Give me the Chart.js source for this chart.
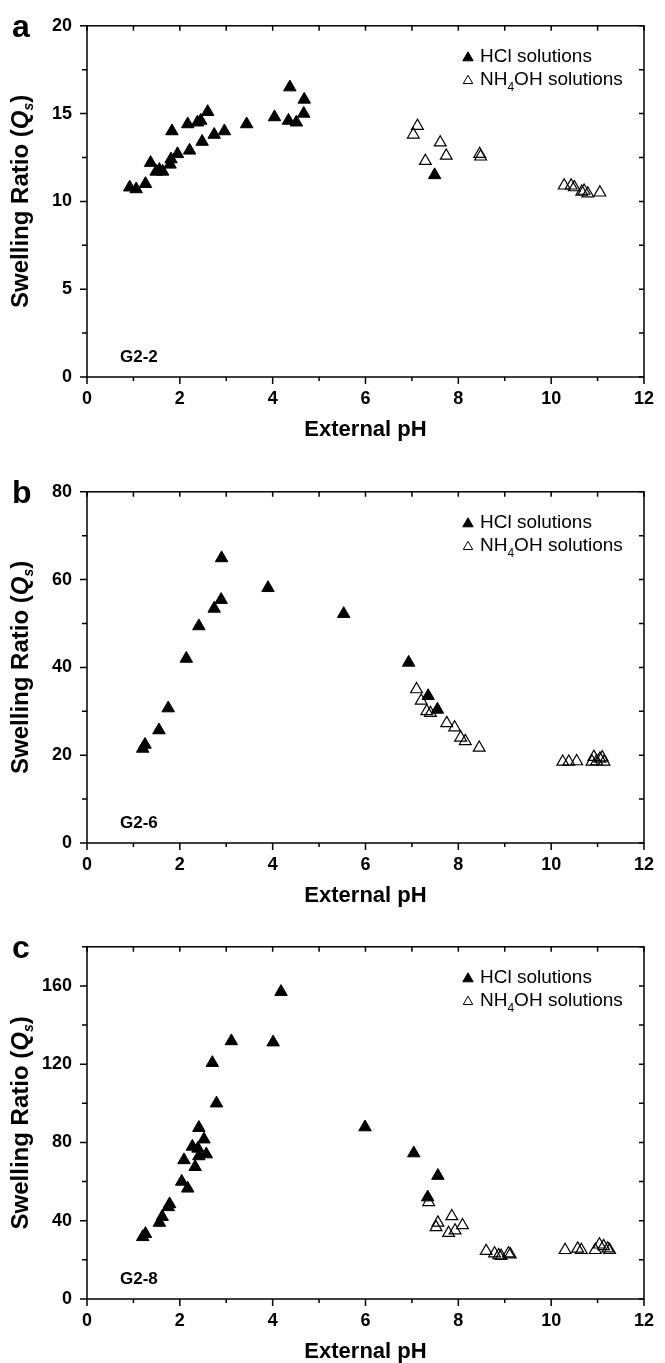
<!DOCTYPE html>
<html>
<head>
<meta charset="utf-8">
<script src="https://cdn.jsdelivr.net/npm/chart.js@4.4.1/dist/chart.umd.min.js"></script>
<style>
  html, body { margin: 0; padding: 0; background: #fff; }
  #page { position: relative; width: 665px; height: 1363px; overflow: hidden; }
  canvas { position: absolute; left: 0; }
</style>
</head>
<body>
<div id="page">
  <canvas id="chartA" width="665" height="466" style="top:0px"></canvas>
  <canvas id="chartB" width="665" height="455" style="top:466px"></canvas>
  <canvas id="chartC" width="665" height="442" style="top:921px"></canvas>
</div>
<script>
// shared x axis
const xTicks = [0, 2, 4, 6, 8, 10, 12];

// panel a  (G2-2)
const hclPhA = [0.92, 1.06, 1.26, 1.37, 1.49, 1.56, 1.63, 1.79, 1.81, 1.83, 1.95, 2.17, 2.21, 2.38, 2.45, 2.48, 2.60, 2.74, 2.96, 3.44, 4.04, 4.34, 4.37, 4.51, 4.67, 4.68, 7.49];
const hclQsA = [10.8, 10.7, 11.0, 12.2, 11.7, 11.8, 11.7, 12.1, 12.4, 14.0, 12.7, 14.4, 12.9, 14.5, 14.6, 13.4, 15.1, 13.8, 14.0, 14.4, 14.8, 14.6, 16.5, 14.5, 15.0, 15.8, 11.5];
const nhPhA = [7.03, 7.12, 7.29, 7.61, 7.74, 8.46, 8.48, 10.28, 10.43, 10.50, 10.66, 10.71, 10.79, 11.05];
const nhQsA = [13.8, 14.3, 12.3, 13.35, 12.6, 12.7, 12.55, 10.9, 10.9, 10.8, 10.55, 10.6, 10.45, 10.5];
const yTicksA = [0, 5, 10, 15, 20];

// panel b  (G2-6)
const hclPhB = [1.20, 1.25, 1.55, 1.75, 2.14, 2.41, 2.74, 2.89, 2.90, 3.90, 5.53, 6.93, 7.35, 7.55];
const hclQsB = [21.5, 22.4, 25.7, 30.7, 42.0, 49.4, 53.4, 55.4, 64.9, 58.1, 52.2, 41.1, 33.5, 30.4];
const nhPhB = [7.10, 7.20, 7.32, 7.40, 7.75, 7.92, 8.05, 8.15, 8.45, 10.25, 10.38, 10.55, 10.88, 10.92, 10.98, 11.05, 11.10, 11.14];
const nhQsB = [35.0, 32.4, 30.0, 29.6, 27.3, 26.3, 24.0, 23.2, 21.7, 18.5, 18.5, 18.6, 18.5, 19.6, 18.6, 19.2, 19.5, 18.5];
const yTicksB = [0, 20, 40, 60, 80];

// panel c  (G2-8)
const hclPhC = [1.20, 1.26, 1.56, 1.62, 1.75, 1.78, 2.04, 2.09, 2.17, 2.27, 2.33, 2.39, 2.41, 2.41, 2.52, 2.57, 2.70, 2.79, 3.11, 4.01, 4.18, 5.99, 7.04, 7.34, 7.56];
const hclQsC = [31.7, 33.3, 39.0, 42.0, 47.0, 48.5, 60.0, 71.0, 56.5, 77.9, 67.5, 76.9, 73.0, 87.5, 81.6, 74.0, 120.7, 100.0, 131.8, 131.2, 157.0, 87.8, 74.5, 52.0, 63.0];
const nhPhC = [7.36, 7.52, 7.56, 7.79, 7.86, 7.93, 8.09, 8.60, 8.78, 8.87, 8.92, 9.08, 9.12, 10.30, 10.57, 10.65, 10.95, 11.04, 11.13, 11.22, 11.26];
const nhQsC = [49.5, 36.7, 39.0, 33.7, 42.3, 35.0, 37.7, 24.5, 23.3, 22.3, 22.0, 23.3, 22.8, 25.0, 25.7, 25.0, 25.0, 27.8, 27.0, 25.8, 25.0];
const yTicksC = [0, 40, 80, 120, 160];

const FONT = '"Liberation Sans", Arial, sans-serif';

function pts(xs, ys) {
    return xs.map((x, i) => ({ x: x, y: ys[i] }));
}

// frame, ticks on all four sides, labels, legend and y title
const panelDeco = {
    id: 'panelDeco',
    afterDraw(chart, args, opts) {
        const ctx = chart.ctx;
        const { left, right, top, bottom } = chart.chartArea;
        const xs = chart.scales.x;
        const ys = chart.scales.y;
        ctx.save();
        ctx.strokeStyle = '#000';
        ctx.fillStyle = '#000';
        ctx.lineWidth = 1.5;
        ctx.strokeRect(left, top, right - left, bottom - top);

        ctx.beginPath();
        for (let v = xs.min; v <= xs.max + 1e-9; v += opts.xMinor) {
            const px = xs.getPixelForValue(v);
            const major = Math.abs(v / opts.xMajor - Math.round(v / opts.xMajor)) < 1e-6;
            ctx.moveTo(px, bottom); ctx.lineTo(px, bottom + (major ? 7 : 4));
            ctx.moveTo(px, top); ctx.lineTo(px, top + 5);
        }
        for (let v = ys.min; v <= ys.max + 1e-9; v += opts.yMinor) {
            const py = ys.getPixelForValue(v);
            const major = Math.abs(v / opts.yMajor - Math.round(v / opts.yMajor)) < 1e-6;
            ctx.moveTo(left, py); ctx.lineTo(left - (major ? 7 : 5), py);
            ctx.moveTo(right, py); ctx.lineTo(right - 5, py);
        }
        ctx.stroke();

        // panel letter
        ctx.textBaseline = 'alphabetic';
        ctx.textAlign = 'left';
        ctx.font = 'bold 32px ' + FONT;
        ctx.fillText(opts.letter, 12, top + 11);

        // sample tag
        ctx.textBaseline = 'middle';
        ctx.font = 'bold 17px ' + FONT;
        ctx.fillText(opts.tag, left + 33, bottom - 20);

        // legend
        const lx = right - 176;
        const ly1 = top + 31;
        const ly2 = top + 54;
        const ds = chart.data.datasets;
        ctx.lineWidth = 1;
        ctx.fillStyle = ds[0].backgroundColor;
        ctx.strokeStyle = ds[0].borderColor;
        Chart.helpers.drawPoint(ctx, { pointStyle: 'triangle', radius: 6, borderWidth: 1 }, lx, ly1 + 1);
        ctx.fillStyle = 'rgba(0,0,0,0)';
        ctx.strokeStyle = ds[1].borderColor;
        Chart.helpers.drawPoint(ctx, { pointStyle: 'triangle', radius: 5.5, borderWidth: 1 }, lx, ly2 + 1);
        ctx.fillStyle = '#000';
        ctx.font = '19px ' + FONT;
        ctx.fillText(ds[0].label, lx + 12, ly1);
        let tx = lx + 12;
        ctx.fillText('NH', tx, ly2);
        tx += ctx.measureText('NH').width;
        ctx.font = '12px ' + FONT;
        ctx.fillText('4', tx, ly2 + 8);
        tx += ctx.measureText('4').width;
        ctx.font = '19px ' + FONT;
        ctx.fillText('OH solutions', tx, ly2);

        // y axis title with italic Q and subscript s
        ctx.translate(21, (top + bottom) / 2);
        ctx.rotate(-Math.PI / 2);
        const parts = [
            { t: 'Swelling Ratio (', f: 'bold 24px ' + FONT, dy: 0 },
            { t: 'Q', f: 'italic bold 24px ' + FONT, dy: 0 },
            { t: 's', f: 'italic bold 14px ' + FONT, dy: 8 },
            { t: ')', f: 'bold 24px ' + FONT, dy: 0 }
        ];
        let total = 0;
        parts.forEach(p => { ctx.font = p.f; p.w = ctx.measureText(p.t).width; total += p.w; });
        let px = -total / 2;
        parts.forEach(p => {
            ctx.font = p.f;
            ctx.fillText(p.t, px, p.dy);
            px += p.w;
        });
        ctx.restore();
    }
};

function makePanel(id, cfg) {
    const canvas = document.getElementById(id);
    const H = canvas.height;
    return new Chart(canvas, {
        type: 'scatter',
        data: {
            datasets: [{
                label: 'HCl solutions',
                data: pts(cfg.hclPh, cfg.hclQs),
                pointStyle: 'triangle',
                pointRadius: 7.2,
                backgroundColor: '#000',
                borderColor: '#000',
                borderWidth: 1
            }, {
                label: 'NH4OH solutions',
                data: pts(cfg.nhPh, cfg.nhQs),
                pointStyle: 'triangle',
                pointRadius: 6.8,
                backgroundColor: 'rgba(0,0,0,0)',
                borderColor: '#000',
                borderWidth: 1.2
            }]
        },
        options: {
            responsive: false,
            animation: false,
            events: [],
            layout: {
                padding: { left: 0, right: 12, top: cfg.padTop, bottom: H - cfg.padTop - 355 - 60 }
            },
            scales: {
                x: {
                    type: 'linear',
                    min: 0,
                    max: 12,
                    grid: { display: false, drawTicks: false },
                    border: { display: false },
                    afterBuildTicks: s => { s.ticks = xTicks.map(v => ({ value: v })); },
                    afterFit: s => { s.height = 60; },
                    ticks: {
                        autoSkip: false,
                        maxRotation: 0,
                        padding: 11,
                        color: '#000',
                        font: { family: FONT, size: 18, weight: 'bold' }
                    },
                    title: {
                        display: true,
                        text: 'External pH',
                        color: '#000',
                        padding: { top: 0, bottom: -6 },
                        font: { family: FONT, size: 22, weight: 'bold' }
                    }
                },
                y: {
                    type: 'linear',
                    min: 0,
                    max: cfg.yMax,
                    grid: { display: false, drawTicks: false },
                    border: { display: false },
                    afterBuildTicks: s => { s.ticks = cfg.yTicks.map(v => ({ value: v })); },
                    afterFit: s => { s.width = 87; },
                    ticks: {
                        padding: 15,
                        color: '#000',
                        font: { family: FONT, size: 18, weight: 'bold' }
                    }
                }
            },
            plugins: {
                legend: { display: false },
                tooltip: { enabled: false },
                panelDeco: {
                    letter: cfg.letter,
                    tag: cfg.tag,
                    xMinor: 1,
                    xMajor: 2,
                    yMinor: cfg.yMinor,
                    yMajor: cfg.yMajor
                }
            }
        },
        plugins: [panelDeco]
    });
}

makePanel('chartA', { letter: 'a', tag: 'G2-2', padTop: 22, yMax: 20, yTicks: yTicksA, yMinor: 2.5, yMajor: 5,
    hclPh: hclPhA, hclQs: hclQsA, nhPh: nhPhA, nhQs: nhQsA });
makePanel('chartB', { letter: 'b', tag: 'G2-6', padTop: 22, yMax: 80, yTicks: yTicksB, yMinor: 10, yMajor: 20,
    hclPh: hclPhB, hclQs: hclQsB, nhPh: nhPhB, nhQs: nhQsB });
makePanel('chartC', { letter: 'c', tag: 'G2-8', padTop: 23, yMax: 180, yTicks: yTicksC, yMinor: 20, yMajor: 40,
    hclPh: hclPhC, hclQs: hclQsC, nhPh: nhPhC, nhQs: nhQsC });
</script>
</body>
</html>
